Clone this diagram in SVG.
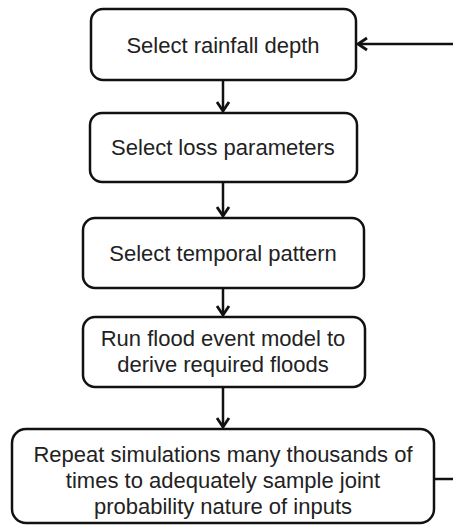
<svg xmlns="http://www.w3.org/2000/svg" width="453" height="528" viewBox="0 0 453 528">
<defs>
<style>
.box{fill:#fff;stroke:#111;stroke-width:2.5}
.t{font-family:"Liberation Sans",Arial,sans-serif;font-size:22px;fill:#222;text-anchor:middle}
.c{fill:none;stroke:#111;stroke-width:2.5}
</style>
<marker id="ah" markerUnits="userSpaceOnUse" markerWidth="20" markerHeight="20" viewBox="-10 -10 20 20" refX="0" refY="0" orient="auto">
<path d="M-9,-6 L0,0 L-9,6" fill="none" stroke="#111" stroke-width="2.8"/>
</marker>
</defs>
<rect width="453" height="528" fill="#fff"/>
<g id="connectors">
<path class="c" d="M223,80 V111" marker-end="url(#ah)"/>
<path class="c" d="M223,182 V216" marker-end="url(#ah)"/>
<path class="c" d="M223,288 V315" marker-end="url(#ah)"/>
<path class="c" d="M223,387 V427" marker-end="url(#ah)"/>
<path class="c" d="M434,479 H462 V44 H358" marker-end="url(#ah)"/>
</g>
<g id="n1"><rect class="box" x="91" y="9" width="265" height="71" rx="12"/><text class="t" x="223" y="53">Select rainfall depth</text></g>
<g id="n2"><rect class="box" x="90" y="113" width="267" height="69" rx="12"/><text class="t" x="223" y="155">Select loss parameters</text></g>
<g id="n3"><rect class="box" x="83" y="218" width="281" height="70" rx="12"/><text class="t" x="223" y="261">Select temporal pattern</text></g>
<g id="n4"><rect class="box" x="83" y="317" width="282" height="70" rx="12"/><text class="t" x="223" y="346">Run flood event model to</text><text class="t" x="223" y="372">derive required floods</text></g>
<g id="n5"><rect class="box" x="12" y="429" width="422" height="94" rx="14"/><text class="t" x="223" y="462">Repeat simulations many thousands of</text><text class="t" x="223" y="488">times to adequately sample joint</text><text class="t" x="223" y="514">probability nature of inputs</text></g>
</svg>
